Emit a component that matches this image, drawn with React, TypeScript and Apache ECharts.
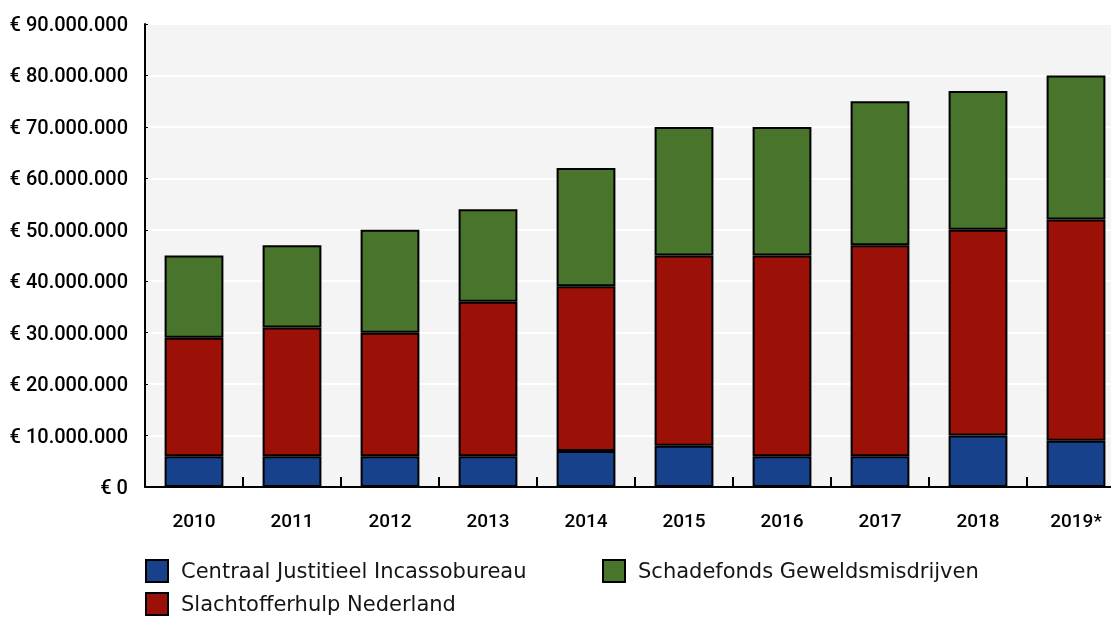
import React, { useEffect, useRef } from "react";
import * as echarts from "echarts";

const years = ["2010", "2011", "2012", "2013", "2014", "2015", "2016", "2017", "2018", "2019*"];
const cjib = [6, 6, 6, 6, 7, 8, 6, 6, 10, 9].map((v) => v * 1e6);
const shn = [23, 25, 24, 30, 32, 37, 39, 41, 40, 43].map((v) => v * 1e6);
const sgm = [16, 16, 20, 18, 23, 25, 25, 28, 27, 28].map((v) => v * 1e6);
const names = ["Centraal Justitieel Incassobureau", "Slachtofferhulp Nederland", "Schadefonds Geweldsmisdrijven"];
const colors = ["#17418a", "#9b1107", "#48742b"];

const fmt = (v: number) => "€ " + String(Math.round(v)).replace(/\B(?=(\d{3})+(?!\d))/g, ".");

export default function App() {
  const ref = useRef<HTMLDivElement>(null);
  useEffect(() => {
    const chart = echarts.init(ref.current!, null, { renderer: "svg" });
    const font = "Roboto";
    const legendBase = {
      icon: "rect",
      itemWidth: 22,
      itemHeight: 22,
      itemGap: 20,
      textStyle: { fontFamily: "DejaVu Sans", fontSize: 21, lineHeight: 22, color: "#151515", padding: [0, 0, 0, 8] },
      padding: 0,
    };
    chart.setOption({
      animation: false,
      legend: [
        { ...legendBase, data: [names[0]], left: 145, top: 559 },
        { ...legendBase, data: [names[2]], left: 602, top: 559 },
        { ...legendBase, data: [names[1]], left: 145, top: 592 },
      ],
      grid: {
        left: 145,
        width: 980,
        top: 24,
        bottom: 130,
        show: true,
        backgroundColor: "#f4f4f4",
        borderWidth: 0,
      },
      xAxis: {
        type: "category",
        data: years,
        axisLine: { lineStyle: { color: "#000", width: 2 } },
        axisTick: { show: true, inside: true, length: 10, lineStyle: { color: "#000", width: 2 } },
        axisLabel: { fontFamily: font, fontWeight: 500, fontSize: 19, color: "#000", margin: 24 },
      },
      yAxis: {
        type: "value",
        min: 0,
        max: 90e6,
        interval: 10e6,
        axisLine: { show: true, lineStyle: { color: "#000", width: 2 } },
        axisTick: { show: true, inside: true, length: 3, lineStyle: { color: "#000" } },
        splitLine: { lineStyle: { color: "#ffffff", width: 2 } },
        axisLabel: { fontFamily: font, fontWeight: 500, fontSize: 20, color: "#000", margin: 17, formatter: fmt },
      },
      series: [cjib, shn, sgm].map((d, i) => ({
        name: names[i],
        type: "bar",
        stack: "total",
        data: d,
        barWidth: "60%",
        itemStyle: { color: colors[i], borderColor: "#000", borderWidth: 2 },
      })),
    });
    return () => chart.dispose();
  }, []);
  return (
    <div style={{ position: "fixed", left: 0, top: 0, width: 1111, height: 617, overflow: "hidden" }}>
      <div ref={ref} style={{ width: 1130, height: 617 }} />
    </div>
  );
}
